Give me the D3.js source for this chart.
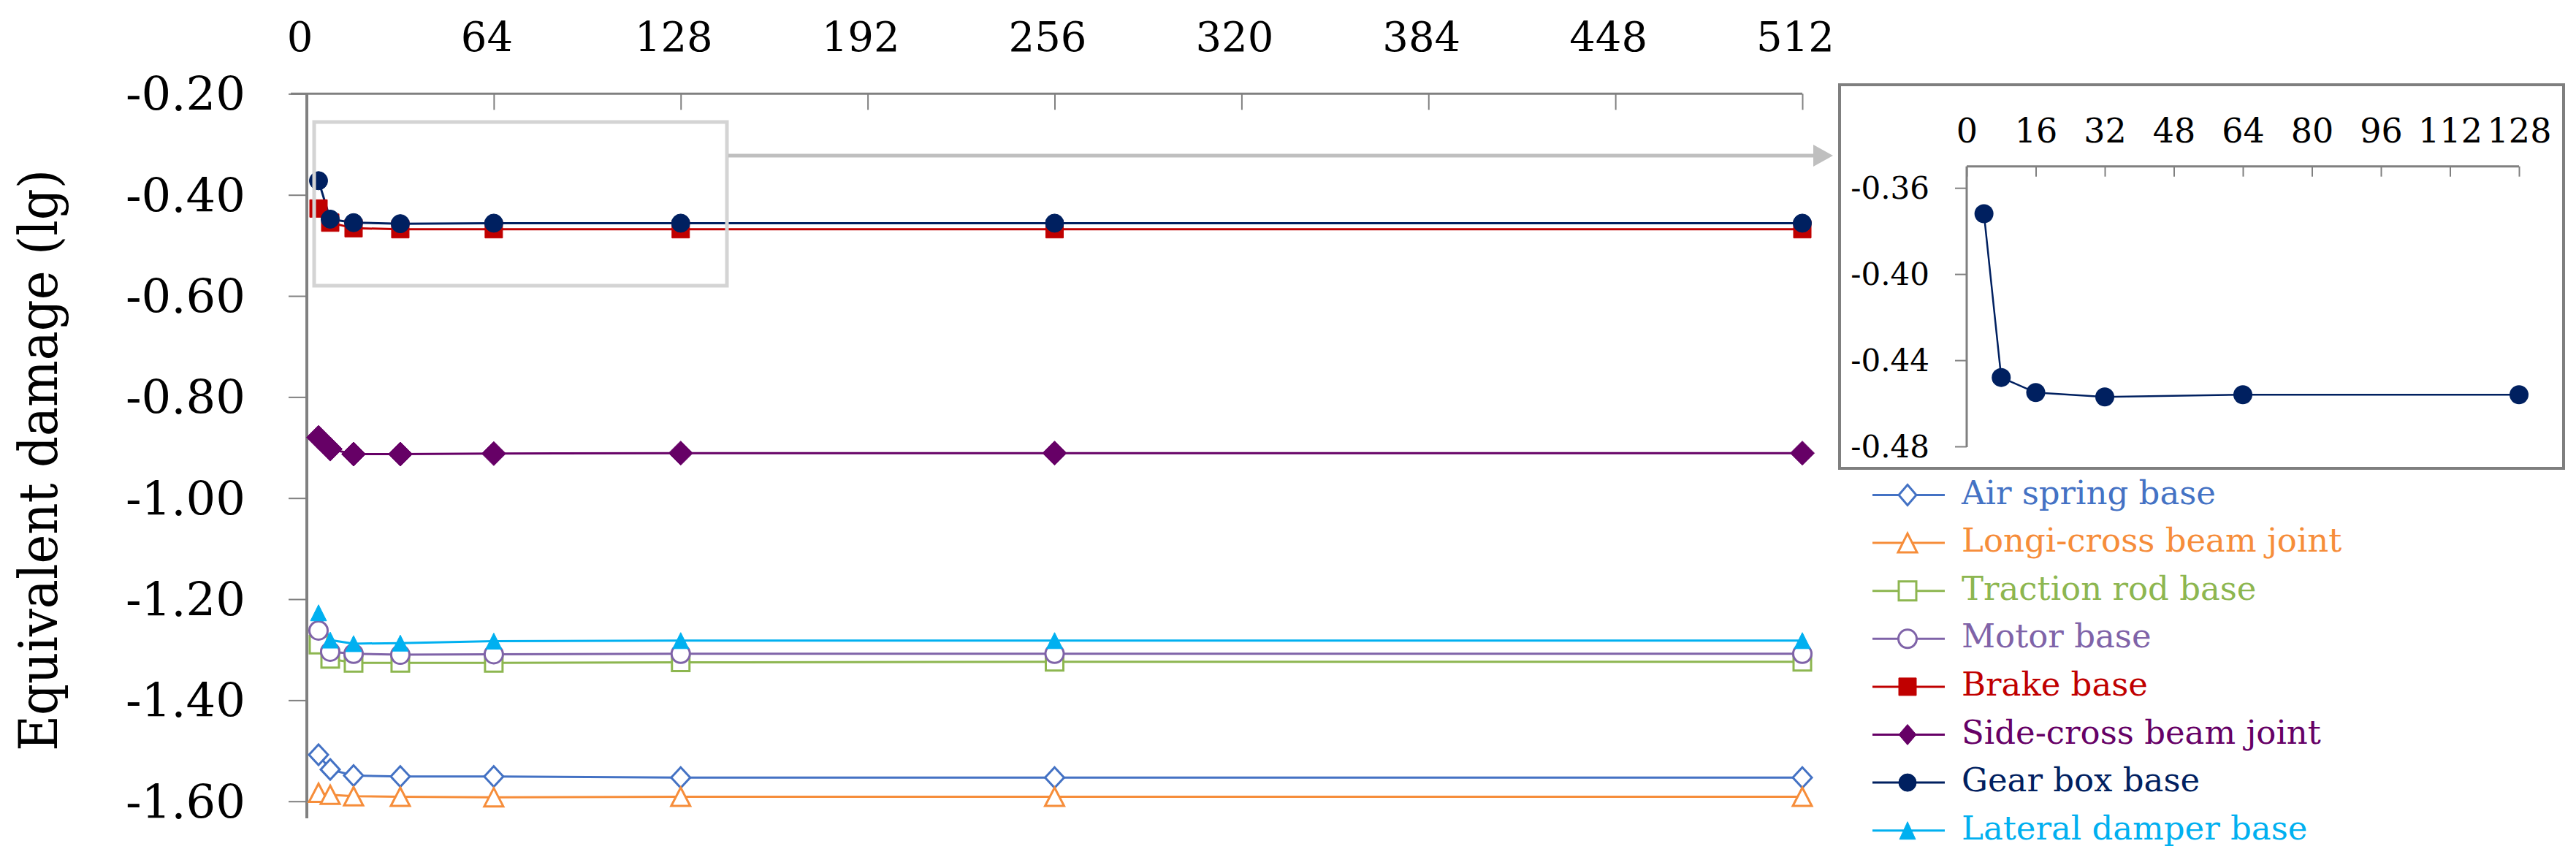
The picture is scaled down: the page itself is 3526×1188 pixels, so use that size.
<!DOCTYPE html>
<html>
<head>
<meta charset="utf-8">
<script src="https://cdn.jsdelivr.net/npm/d3@7"></script>
<style>
  html, body { margin: 0; padding: 0; background: #ffffff; }
  svg { display: block; }
  text { font-family: "DejaVu Serif", "Liberation Serif", serif; }
</style>
</head>
<body>
<svg id="chart" width="3526" height="1188"></svg>
<script>
// ---------------- DATA ----------------
const xValues = [4, 8, 16, 32, 64, 128, 256, 512];
const seriesNames = [
  "Air spring base", "Longi-cross beam joint", "Traction rod base", "Motor base",
  "Brake base", "Side-cross beam joint", "Gear box base", "Lateral damper base"
];
const airSpringBase      = [-1.508, -1.537, -1.549, -1.551, -1.551, -1.553, -1.553, -1.553];
const longiCrossJoint    = [-1.583, -1.587, -1.590, -1.591, -1.592, -1.591, -1.591, -1.591];
const tractionRodBase    = [-1.290, -1.318, -1.326, -1.326, -1.326, -1.325, -1.324, -1.324];
const motorBase          = [-1.262, -1.304, -1.308, -1.310, -1.309, -1.308, -1.308, -1.308];
const brakeBase          = [-0.427, -0.455, -0.466, -0.468, -0.468, -0.468, -0.468, -0.468];
const sideCrossJoint     = [-0.880, -0.903, -0.913, -0.913, -0.912, -0.911, -0.911, -0.911];
const gearBoxBase        = [-0.372, -0.448, -0.455, -0.457, -0.456, -0.456, -0.456, -0.456];
const lateralDamperBase  = [-1.227, -1.281, -1.288, -1.287, -1.283, -1.282, -1.282, -1.282];

const xTicks = [0, 64, 128, 192, 256, 320, 384, 448, 512];
const yTicks = [-0.20, -0.40, -0.60, -0.80, -1.00, -1.20, -1.40, -1.60];
const insetXValues = [4, 8, 16, 32, 64, 128];
const insetGearBox = [-0.372, -0.448, -0.455, -0.457, -0.456, -0.456];
const insetXTicks = [0, 16, 32, 48, 64, 80, 96, 112, 128];
const insetYTicks = [-0.36, -0.40, -0.44, -0.48];
const yTitle = "Equivalent damage (lg)";

// ---------------- STYLE ----------------
const styles = [
  { values: airSpringBase,     color: "#4472C4", shape: "diamond",  filled: false, w: 26, h: 28, lw: 24, lh: 28 },
  { values: longiCrossJoint,   color: "#F68D3A", shape: "triangle", filled: false, w: 26, h: 25, lw: 26, lh: 26 },
  { values: tractionRodBase,   color: "#8DB650", shape: "square",   filled: false, w: 24, h: 24, lw: 24, lh: 26 },
  { values: motorBase,         color: "#7F63A8", shape: "circle",   filled: false, w: 25, h: 25, lw: 25, lh: 25 },
  { values: brakeBase,         color: "#C00000", shape: "square",   filled: true,  w: 24, h: 24, lw: 24, lh: 24 },
  { values: sideCrossJoint,    color: "#660066", shape: "diamond",  filled: true,  w: 33, h: 33, lw: 24, lh: 28 },
  { values: gearBoxBase,       color: "#002060", shape: "circle",   filled: true,  w: 25, h: 25, lw: 24, lh: 24 },
  { values: lateralDamperBase, color: "#00B0F0", shape: "triangle", filled: true,  w: 22, h: 22, lw: 22, lh: 24 }
];
const axisColor = "#808080";

function markerPath(shape, w, h) {
  const a = w / 2, b = h / 2;
  switch (shape) {
    case "circle":  return `M${-a},0A${a},${b} 0 1,0 ${a},0A${a},${b} 0 1,0 ${-a},0Z`;
    case "square":  return `M${-a},${-b}H${a}V${b}H${-a}Z`;
    case "diamond": return `M0,${-b}L${a},0L0,${b}L${-a},0Z`;
    case "triangle":return `M0,${-b}L${a},${b}L${-a},${b}Z`;
  }
}

const svg = d3.select("#chart");
svg.append("rect").attr("width", 3526).attr("height", 1188).attr("fill", "#fff");

// ---------------- MAIN CHART ----------------
const x = d3.scaleLinear().domain([0, 512]).range([420, 2467]);
const y = d3.scaleLinear().domain([-0.4, -1.6]).range([266.7, 1096.7]);
const yTop = y(-0.2);
const yAxisBottom = 1120;

const gMain = svg.append("g");

// x axis (top)
const xAxis = d3.axisTop(x).tickValues(xTicks).tickFormat(d3.format("d"))
  .tickSizeInner(-22).tickSizeOuter(0).tickPadding(yTop - 70);
const gx = gMain.append("g").attr("transform", `translate(0,${yTop})`).call(xAxis);
gx.select(".domain").remove();
gx.selectAll(".tick line").attr("stroke", axisColor).attr("stroke-width", 2);
gx.selectAll(".tick text").attr("font-size", 56).attr("fill", "#000").attr("dx", -10);
gMain.append("line").attr("x1", 398).attr("x2", x(512)).attr("y1", yTop).attr("y2", yTop)
  .attr("stroke", axisColor).attr("stroke-width", 3);

// y axis (left)
const yAxis = d3.axisLeft(y).tickValues(yTicks).tickFormat(d => d.toFixed(2))
  .tickSizeInner(25).tickSizeOuter(0).tickPadding(59);
const gy = gMain.append("g").attr("transform", `translate(${x(0)},0)`).call(yAxis);
gy.select(".domain").remove();
gy.selectAll(".tick line").attr("stroke", axisColor).attr("stroke-width", 2);
gy.selectAll(".tick text").attr("font-size", 64).attr("fill", "#000").attr("dy", "0.35em");
gMain.append("line").attr("x1", x(0)).attr("x2", x(0)).attr("y1", yTop - 1).attr("y2", yAxisBottom)
  .attr("stroke", axisColor).attr("stroke-width", 4);

// y title
svg.append("text")
  .attr("transform", "translate(78,630) rotate(-90)")
  .attr("text-anchor", "middle")
  .attr("font-size", 72)
  .attr("textLength", 796).attr("lengthAdjust", "spacingAndGlyphs")
  .attr("fill", "#000")
  .text(yTitle);

// series lines and markers
const line = d3.line().x(d => x(d[0])).y(d => y(d[1]));
styles.forEach((s, i) => {
  const pts = xValues.map((xv, j) => [xv, s.values[j]]);
  gMain.append("path").attr("d", line(pts)).attr("fill", "none")
    .attr("stroke", s.color).attr("stroke-width", 3);
});
styles.forEach((s, i) => {
  const pts = xValues.map((xv, j) => [xv, s.values[j]]);
  gMain.append("g").selectAll("path").data(pts).join("path")
    .attr("transform", d => `translate(${x(d[0])},${y(d[1])})`)
    .attr("d", markerPath(s.shape, s.w, s.h))
    .attr("fill", s.filled ? s.color : "#fff")
    .attr("stroke", s.color)
    .attr("stroke-width", s.filled ? 1 : 3);
});

// zoom box and arrow
const boxX0 = 430, boxX1 = 995, boxY0 = 167, boxY1 = 391;
gMain.append("rect").attr("x", boxX0).attr("y", boxY0)
  .attr("width", boxX1 - boxX0).attr("height", boxY1 - boxY0)
  .attr("fill", "none").attr("stroke", "#D4D4D4").attr("stroke-width", 5);
const arrowY = 213;
gMain.append("line").attr("x1", boxX1 + 2).attr("x2", 2484).attr("y1", arrowY).attr("y2", arrowY)
  .attr("stroke", "#BFBFBF").attr("stroke-width", 5);
gMain.append("path").attr("d", `M2482,${arrowY - 15}L2509,${arrowY}L2482,${arrowY + 15}Z`)
  .attr("fill", "#BFBFBF");

// ---------------- INSET ----------------
const gIn = svg.append("g");
gIn.append("rect").attr("x", 2518).attr("y", 116).attr("width", 991).attr("height", 525)
  .attr("fill", "#fff").attr("stroke", "#7F7F7F").attr("stroke-width", 4);

const ix = d3.scaleLinear().domain([0, 128]).range([2692, 3448]);
const iy = d3.scaleLinear().domain([-0.35, -0.48]).range([227.7, 611]);

const ixAxis = d3.axisTop(ix).tickValues(insetXTicks).tickFormat(d3.format("d"))
  .tickSizeInner(-14).tickSizeOuter(0).tickPadding(iy(-0.35) - 195);
const gix = gIn.append("g").attr("transform", `translate(0,${iy(-0.35)})`).call(ixAxis);
gix.select(".domain").remove();
gix.selectAll(".tick line").attr("stroke", axisColor).attr("stroke-width", 2);
gix.selectAll(".tick text").attr("font-size", 46).attr("fill", "#000");
gIn.append("line").attr("x1", ix(0)).attr("x2", ix(128)).attr("y1", iy(-0.35)).attr("y2", iy(-0.35))
  .attr("stroke", axisColor).attr("stroke-width", 3);

const iyAxis = d3.axisLeft(iy).tickValues(insetYTicks).tickFormat(d => d.toFixed(2))
  .tickSizeInner(16).tickSizeOuter(0).tickPadding(35);
const giy = gIn.append("g").attr("transform", `translate(${ix(0)},0)`).call(iyAxis);
giy.select(".domain").remove();
giy.selectAll(".tick line").attr("stroke", axisColor).attr("stroke-width", 2);
giy.selectAll(".tick text").attr("font-size", 42).attr("fill", "#000").attr("dy", "0.35em");
gIn.append("line").attr("x1", ix(0)).attr("x2", ix(0)).attr("y1", iy(-0.35)).attr("y2", iy(-0.48) + 1)
  .attr("stroke", axisColor).attr("stroke-width", 3);

const iline = d3.line().x(d => ix(d[0])).y(d => iy(d[1]));
const ipts = insetXValues.map((xv, j) => [xv, insetGearBox[j]]);
gIn.append("path").attr("d", iline(ipts)).attr("fill", "none")
  .attr("stroke", "#002060").attr("stroke-width", 2.5);
gIn.selectAll("path.im").data(ipts).join("path").attr("class", "im")
  .attr("transform", d => `translate(${ix(d[0])},${iy(d[1])})`)
  .attr("d", markerPath("circle", 26, 26))
  .attr("fill", "#002060");

// ---------------- LEGEND ----------------
const legendRow = d3.scaleLinear().domain([0, 7]).range([677.5, 1136.7]);
const gLeg = svg.append("g");
seriesNames.forEach((name, i) => {
  const s = styles[i];
  const yy = legendRow(i);
  gLeg.append("line").attr("x1", 2563).attr("x2", 2662).attr("y1", yy).attr("y2", yy)
    .attr("stroke", s.color).attr("stroke-width", 3);
  gLeg.append("path").attr("transform", `translate(2611,${yy})`)
    .attr("d", markerPath(s.shape, s.lw, s.lh))
    .attr("fill", s.filled ? s.color : "#fff")
    .attr("stroke", s.color).attr("stroke-width", s.filled ? 1 : 3);
  gLeg.append("text").attr("x", 2685).attr("y", yy + 12)
    .attr("font-size", 45).attr("fill", s.color).text(name);
});
</script>
</body>
</html>
